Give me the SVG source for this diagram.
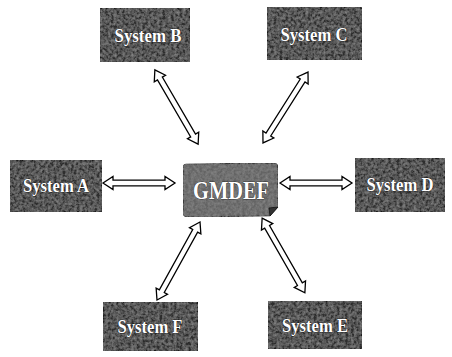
<svg xmlns="http://www.w3.org/2000/svg" width="452" height="357" viewBox="0 0 452 357">
<style>
.box{stroke:#111;stroke-width:1;filter:url(#tex)}
.lbl{font-family:"Liberation Serif","Times New Roman",serif;font-weight:bold;font-size:19px;fill:#fff;stroke:#000;stroke-width:0.6;paint-order:stroke;text-anchor:middle}
.arr{fill:#fff;stroke:#000;stroke-width:1.3;stroke-linejoin:miter}
</style>
<defs>
<filter id="tex" x="0" y="0" width="100%" height="100%">
<feTurbulence type="fractalNoise" baseFrequency="0.35" numOctaves="3" seed="4" result="n"/>
<feColorMatrix in="n" type="matrix" values="0 0 0 0 0  0 0 0 0 0  0 0 0 0 0  0 0 0 -1.6 1.15" result="a"/>
<feFlood flood-color="#858585" result="lt"/>
<feComposite in="lt" in2="a" operator="in" result="lt2"/>
<feMerge result="m"><feMergeNode in="SourceGraphic"/><feMergeNode in="lt2"/></feMerge>
<feComposite in="m" in2="SourceGraphic" operator="in"/>
</filter>
</defs>
<rect width="452" height="357" fill="#fff"/>
<g id="connectors">
<polygon class="arr" transform="translate(139,183)" points="-36,0 -26,-6.5 -26,-2.8 26,-2.8 26,-6.5 36,0 26,6.5 26,2.8 -26,2.8 -26,6.5"/>
<polygon class="arr" transform="translate(316,183)" points="-36,0 -26,-6.5 -26,-2.8 26,-2.8 26,-6.5 36,0 26,6.5 26,2.8 -26,2.8 -26,6.5"/>
<polygon class="arr" transform="translate(176.5,107) rotate(59.8)" points="-43,0 -33,-6.5 -33,-2.8 33,-2.8 33,-6.5 43,0 33,6.5 33,2.8 -33,2.8 -33,6.5"/>
<polygon class="arr" transform="translate(285.5,107.5) rotate(-57.6)" points="-42,0 -32,-6.5 -32,-2.8 32,-2.8 32,-6.5 42,0 32,6.5 32,2.8 -32,2.8 -32,6.5"/>
<polygon class="arr" transform="translate(178.5,261) rotate(-61.1)" points="-44.5,0 -34.5,-6.5 -34.5,-2.8 34.5,-2.8 34.5,-6.5 44.5,0 34.5,6.5 34.5,2.8 -34.5,2.8 -34.5,6.5"/>
<polygon class="arr" transform="translate(283.5,255.5) rotate(60.2)" points="-43,0 -33,-6.5 -33,-2.8 33,-2.8 33,-6.5 43,0 33,6.5 33,2.8 -33,2.8 -33,6.5"/>
</g>
<g id="systemB"><rect class="box" x="100" y="8" width="90" height="54" fill="#2e2e2e"/><text class="lbl" x="148" y="42" textLength="67" lengthAdjust="spacingAndGlyphs">System B</text></g>
<g id="systemC"><rect class="box" x="267" y="7" width="95" height="53" fill="#2e2e2e"/><text class="lbl" x="314" y="41" textLength="67" lengthAdjust="spacingAndGlyphs">System C</text></g>
<g id="systemA"><rect class="box" x="10" y="160" width="92" height="52" fill="#2e2e2e"/><text class="lbl" x="56" y="192" textLength="66" lengthAdjust="spacingAndGlyphs">System A</text></g>
<g id="systemD"><rect class="box" x="355" y="158" width="90" height="54" fill="#2e2e2e"/><text class="lbl" x="400" y="191" textLength="67" lengthAdjust="spacingAndGlyphs">System D</text></g>
<g id="systemF"><rect class="box" x="103" y="302" width="95" height="49" fill="#2e2e2e"/><text class="lbl" x="150" y="333" textLength="65" lengthAdjust="spacingAndGlyphs">System F</text></g>
<g id="systemE"><rect class="box" x="268" y="301" width="94" height="48" fill="#2e2e2e"/><text class="lbl" x="315" y="332" textLength="66" lengthAdjust="spacingAndGlyphs">System E</text></g>
<g id="gmdef">
<path class="box" d="M186,164 L274,163 Q278,163 278,167 L278,207 L270,216 L187,217 Q183,217 183,213 L183,167 Q183,164 186,164 Z" fill="#646464"/>
<path d="M278,207 L270,216 L269,208 Z" fill="#333" stroke="#111" stroke-width="0.8"/>
<text class="lbl" x="231" y="199" style="font-size:25px" textLength="76" lengthAdjust="spacingAndGlyphs">GMDEF</text>
</g>
</svg>
